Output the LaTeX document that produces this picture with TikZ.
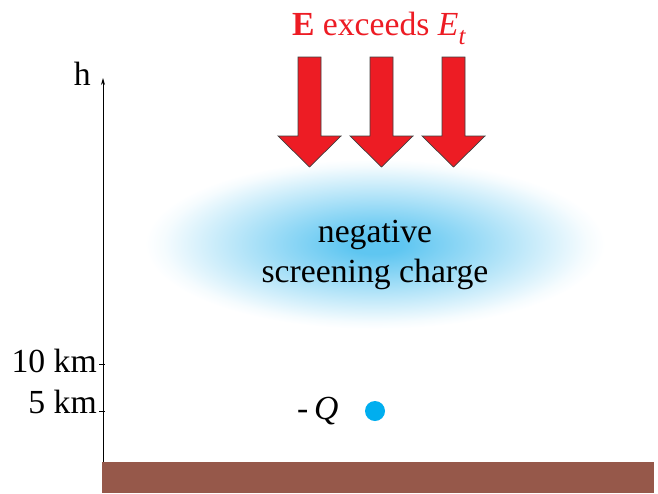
\documentclass[tikz,border=0pt]{standalone}
\usepackage{fontspec}
\setmainfont{Liberation Serif}
\usetikzlibrary{arrows.meta}
\definecolor{arrowred}{RGB}{237,28,36}
\definecolor{cloudc}{RGB}{95,198,241}
\definecolor{dotblue}{RGB}{0,174,239}
\definecolor{ground}{RGB}{150,88,74}
\pgfdeclareradialshading{cloudshade}{\pgfpoint{0bp}{0bp}}{color(0bp)=(cloudc); color(3bp)=(cloudc); color(10bp)=(cloudc!68!white); color(18bp)=(cloudc!30!white); color(23bp)=(cloudc!6!white); color(25bp)=(white); color(50bp)=(white)}
\tikzset{
  big/.style={font=\fontsize{33.7}{40}\selectfont},
  blockarrow/.style={fill=arrowred, draw=black!75, line width=0.7pt, line join=miter},
}
\begin{document}
\begin{tikzpicture}[x=1pt,y=-1pt]
\useasboundingbox[fill=white] (0,0) rectangle (658,493);
% cloud
\path[shading=cloudshade] (375,244) ellipse [x radius=230, y radius=85];
\node[big, anchor=base] (cloudtxt1) at (375,242) {negative};
\node[big, anchor=base] (cloudtxt2) at (375,282) {screening charge};
% ground
\fill[ground] (102,462) rectangle (654,493);
% axis
\coordinate (axbot) at (103,462);
\coordinate (axtop) at (103,78);
\draw[line width=0.8pt, -{Stealth[length=7pt,width=4pt]}] (axbot) -- (axtop);
\node[big, anchor=base east, inner sep=0pt] (hlab) at (91,85) {h};
\coordinate (t10) at (103,364);
\coordinate (t5) at (103,411);
\draw[line width=0.8pt] ([xshift=-4pt]t10) -- ([xshift=2pt]t10);
\draw[line width=0.8pt] ([xshift=-4pt]t5) -- ([xshift=2pt]t5);
\node[big, anchor=base east, inner sep=0pt] (l10) at (97,372) {10 km};
\node[big, anchor=base east, inner sep=0pt] (l5) at (97,413) {5 km};
% title
\node[big, text=arrowred, anchor=base] (title) at (379,35) {\textbf{E} exceeds \textit{E}\raisebox{-0.28em}{\fontsize{25}{25}\selectfont\textit{t}}};
% block arrows
\foreach \cx [count=\i] in {309.5,381.5,453.5}{
  \draw[blockarrow] (\cx-11.5,57) -- (\cx+11.5,57) -- (\cx+11.5,136) -- (\cx+31.5,136) -- (\cx,167) -- (\cx-31.5,136) -- (\cx-11.5,136) -- cycle;
}
% charge
\node[big, anchor=base west, inner sep=0pt] (qlab) at (297,419) {-\,\textit{Q}};
\node[circle, fill=dotblue, minimum size=20pt, inner sep=0pt] (qdot) at (375,411) {};
\end{tikzpicture}
\end{document}
